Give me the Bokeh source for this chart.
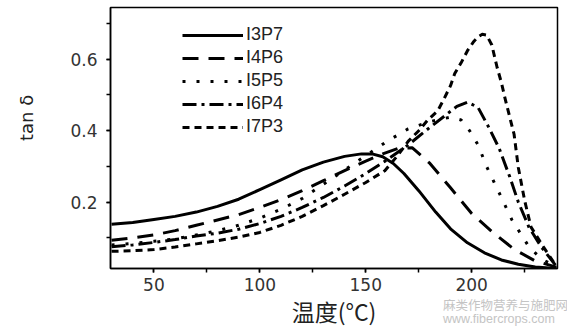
from bokeh.plotting import figure
from bokeh.layouts import column
from bokeh.models import Range1d, SingleIntervalTicker, Legend, LegendItem, Div
from bokeh.embed import file_html
from bokeh.resources import INLINE

# ---- data ----
x_i3p7 = [30, 40, 50, 60, 70, 80, 90, 100, 110, 120, 130, 140, 148, 153, 158, 163, 168, 175, 183, 190, 198, 206, 214, 222, 230, 240]
y_i3p7 = [0.138, 0.143, 0.151, 0.160, 0.172, 0.188, 0.208, 0.235, 0.262, 0.290, 0.312, 0.328, 0.335, 0.335, 0.327, 0.308, 0.280, 0.232, 0.172, 0.125, 0.086, 0.058, 0.038, 0.026, 0.018, 0.014]

x_i4p6 = [30, 40, 50, 60, 70, 80, 90, 100, 110, 120, 130, 140, 150, 158, 165, 172, 180, 190, 200, 210, 220, 230, 240]
y_i4p6 = [0.093, 0.100, 0.108, 0.120, 0.135, 0.150, 0.165, 0.185, 0.207, 0.232, 0.260, 0.288, 0.315, 0.335, 0.350, 0.352, 0.310, 0.240, 0.168, 0.115, 0.068, 0.035, 0.018]

x_i5p5 = [30, 40, 50, 60, 70, 80, 90, 100, 110, 120, 130, 140, 150, 160, 170, 180, 190, 195, 199, 203, 207, 212, 219, 227, 233, 240]
y_i5p5 = [0.080, 0.084, 0.090, 0.097, 0.108, 0.120, 0.135, 0.155, 0.180, 0.210, 0.250, 0.290, 0.330, 0.370, 0.405, 0.425, 0.438, 0.430, 0.400, 0.360, 0.300, 0.238, 0.150, 0.075, 0.040, 0.020]

x_i6p4 = [30, 40, 50, 60, 70, 80, 90, 100, 110, 120, 130, 140, 150, 160, 170, 180, 188, 193, 198, 203, 208, 213, 218, 222, 227, 233, 240]
y_i6p4 = [0.075, 0.080, 0.087, 0.095, 0.105, 0.113, 0.124, 0.140, 0.160, 0.185, 0.213, 0.245, 0.280, 0.318, 0.360, 0.408, 0.445, 0.468, 0.480, 0.465, 0.410, 0.350, 0.270, 0.200, 0.130, 0.073, 0.020]

x_i7p3 = [30, 40, 50, 60, 70, 80, 90, 100, 110, 120, 130, 140, 150, 159, 165, 170, 175, 179, 184, 187, 190, 192, 195, 198, 201, 203, 205, 207, 209.5, 212, 214, 216, 220, 222, 225, 228, 234, 240]
y_i7p3 = [0.062, 0.064, 0.067, 0.074, 0.083, 0.092, 0.102, 0.115, 0.135, 0.160, 0.190, 0.222, 0.255, 0.288, 0.330, 0.370, 0.400, 0.428, 0.456, 0.490, 0.526, 0.560, 0.590, 0.624, 0.650, 0.663, 0.670, 0.668, 0.640, 0.577, 0.535, 0.484, 0.390, 0.297, 0.204, 0.130, 0.073, 0.020]

series_names = ["I3P7", "I4P6", "I5P5", "I6P4", "I7P3"]
x_label = "温度(°C)"
y_label = "tan δ"
watermark = ["麻类作物营养与施肥网", "www.fibercrops.com"]

FONT = "'Liberation Sans', 'Noto Sans CJK SC', sans-serif"
AXFONT = "'DejaVu Sans', 'Noto Sans CJK SC', sans-serif"

p = figure(width=567, height=331, output_backend="svg", toolbar_location=None,
           x_range=Range1d(29.5, 240.5), y_range=Range1d(0.014, 0.745),
           min_border_left=110, min_border_right=10, min_border_top=7, min_border_bottom=63)
p.background_fill_color = "white"
p.border_fill_color = "white"
p.xgrid.visible = False
p.ygrid.visible = False
p.outline_line_color = "black"
p.outline_line_width = 1.5

p.xaxis.ticker = SingleIntervalTicker(interval=50, num_minor_ticks=2)
p.yaxis.ticker = SingleIntervalTicker(interval=0.2, num_minor_ticks=2)
for ax in (p.xaxis[0], p.yaxis[0]):
    ax.axis_line_color = "black"
    ax.axis_line_width = 1.5
    ax.major_tick_line_color = "black"
    ax.minor_tick_line_color = "black"
    ax.major_tick_line_width = 1.5
    ax.minor_tick_line_width = 1.5
    ax.major_tick_out = 4
    ax.major_tick_in = 0
    ax.minor_tick_out = 4
    ax.minor_tick_in = 0
    ax.major_label_text_font = AXFONT
    ax.major_label_text_font_size = "17px"
    ax.major_label_text_color = "#333333"
    ax.axis_label_text_font = AXFONT
    ax.axis_label_text_font_style = "normal"
    ax.axis_label_text_color = "#222222"

p.xaxis.major_label_standoff = 5
p.xaxis.axis_label = x_label
p.xaxis.axis_label_text_font = "'Noto Sans CJK SC', sans-serif"
p.xaxis.axis_label_text_font_size = "23px"
p.xaxis.axis_label_standoff = 0
p.yaxis.major_label_standoff = 9
p.yaxis.axis_label = "\u00a0" * 7 + y_label
p.yaxis.axis_label_text_font_size = "18px"
p.yaxis.axis_label_standoff = 30

xs = [x_i3p7, x_i4p6, x_i5p5, x_i6p4, x_i7p3]
ys = [y_i3p7, y_i4p6, y_i5p5, y_i6p4, y_i7p3]
dashes = ["solid", "16 10", "3 11", "14 5 3 5", "7 5"]
items = []
for name, xv, yv, d in zip(series_names, xs, ys, dashes):
    r = p.line(xv, yv, line_color="black", line_width=3, line_dash=d, line_join="round")
    items.append(LegendItem(label=name, renderers=[r]))

legend = Legend(items=items, location=(72, 131))
legend.border_line_alpha = 0
legend.background_fill_alpha = 0
legend.margin = 0
legend.padding = 0
legend.glyph_width = 61
legend.glyph_height = 20
legend.spacing = 2
legend.label_standoff = 3
legend.label_text_font = FONT
legend.label_text_font_size = "18px"
legend.label_text_color = "#222222"
p.add_layout(legend, "center")

wm = Div(text="<br>".join(watermark), width=124, height=28, margin=(-31, 0, 0, 443),
         styles={"color": "#c4c4c4", "font-size": "12.5px", "line-height": "13px",
                 "font-family": "'Liberation Sans', 'Noto Sans CJK SC', sans-serif",
                 "white-space": "nowrap"})

page = column(p, wm, spacing=0)

open("out.html", "w").write(file_html(page, INLINE))
